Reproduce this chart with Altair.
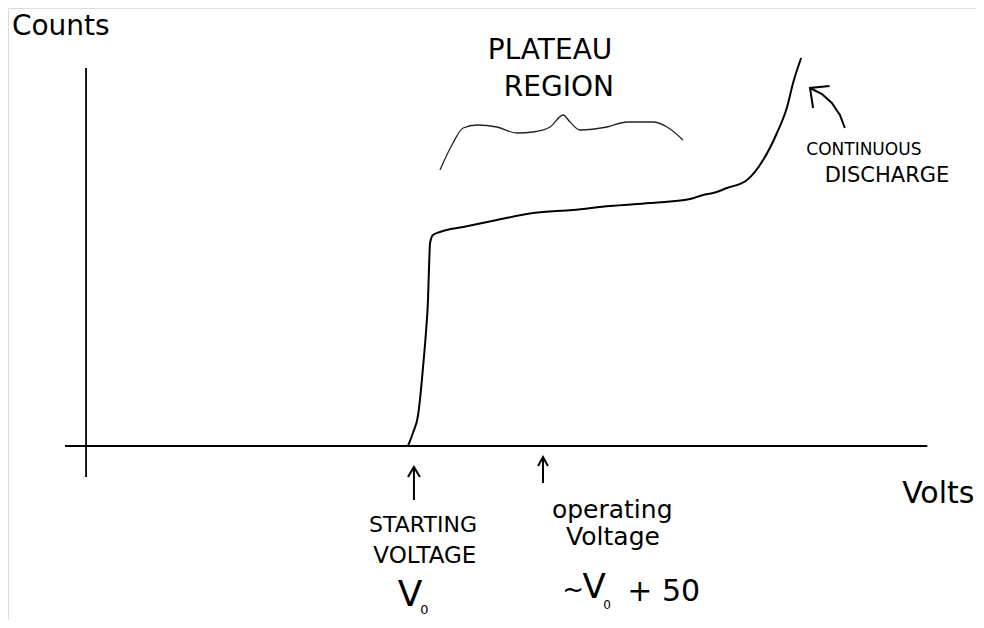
import altair as alt
import pandas as pd

# ---- data (volts, counts in arbitrary units) ----
curve_volts = [123.7, 125.6, 127.6, 128.3, 129.5, 130.6, 131.4, 131.8, 132.2, 133.3,
               136.0, 144.9, 157.9, 171.8, 187.1, 201.3, 216.7, 232.1, 237.1, 241.0,
               246.3, 254.0, 260.2, 265.5, 269.4, 271.7, 274.8]
curve_counts = [0, 6.5, 15.5, 23, 39.5, 56.5, 73, 89.5, 101.5, 105.5,
                107, 109.5, 113, 116.5, 118, 120, 121.5, 123.5, 125.5, 126.5,
                129, 133, 143, 156.5, 169.5, 181.5, 194]

# curly brace over the plateau
brace_volts = [136.0, 141.0, 144.9, 150.2, 157.9, 165.6, 171.8, 178.3, 183.3, 186.0,
               189.8, 200.2, 207.9, 217.9, 223.3, 229.4]
brace_counts = [138, 151.5, 159, 160.5, 159.5, 156.5, 157, 159.5, 165.5, 162,
                158, 159.5, 162, 162, 159.5, 153]

# axes lines (hand-drawn, they overshoot the origin)
axis_seg = ["xaxis", "xaxis", "yaxis", "yaxis"]
axis_volts = [-8.1, 323.3, 0, 0]
axis_counts = [0, 0, 189, -15.5]

# arrows: (segment id, volts, counts)
arrow_seg = ["cd_shaft"] * 5 + ["cd_head"] * 3 + \
            ["sv_shaft"] * 2 + ["sv_head"] * 3 + \
            ["ov_shaft"] * 2 + ["ov_head"] * 3
arrow_volts = [291.6, 289.7, 286.6, 282.8, 278.2, 285.7, 278.2, 279.4,
               126.0, 126.0, 123.7, 126.0, 128.3,
               175.6, 175.6, 173.7, 175.6, 177.5]
arrow_counts = [159, 165.5, 171.5, 176, 179, 180, 179, 169,
                -27, -10.5, -15.5, -10.5, -15.5,
                -18.5, -5.5, -10, -5.5, -10]

# text annotations
label_text = ["Counts", "PLATEAU", "REGION", "CONTINUOUS", "DISCHARGE",
              "STARTING", "VOLTAGE", "V", "0",
              "operating", "Voltage", "~", "V", "0", "+ 50", "Volts"]
label_volts = [-28.5, 178.3, 181.7, 298.9, 307.8,
               129.5, 130.2, 124.5, 130.0,
               202.2, 202.5, 187.2, 195.2, 200.2, 222.0, 327.5]
label_counts = [209.5, 197.5, 179, 148, 135,
                -39.5, -55, -74.5, -82,
                -32, -45.5, -72, -71, -79.5, -73, -24]
label_size = [28, 28, 28, 17, 21,
              22, 23, 36, 13,
              25, 25, 26, 34, 12, 30, 30]
label_align = ["left"] + ["center"] * 15

# ---- build tables ----
curve_df = pd.DataFrame({"v": curve_volts, "c": curve_counts, "i": range(len(curve_volts))})
brace_df = pd.DataFrame({"v": brace_volts, "c": brace_counts, "i": range(len(brace_volts))})
axis_df = pd.DataFrame({"seg": axis_seg, "v": axis_volts, "c": axis_counts, "i": range(len(axis_seg))})
arrow_df = pd.DataFrame({"seg": arrow_seg, "v": arrow_volts, "c": arrow_counts, "i": range(len(arrow_seg))})
label_df = pd.DataFrame({"t": label_text, "v": label_volts, "c": label_counts,
                         "s": label_size, "a": label_align})

xs = alt.Scale(domain=[-30, 342], nice=False, zero=False)
ys = alt.Scale(domain=[-87, 219], nice=False, zero=False)
X = alt.X("v:Q", scale=xs, axis=None)
Y = alt.Y("c:Q", scale=ys, axis=None)

axes = alt.Chart(axis_df).mark_line(color="black", strokeWidth=1.8).encode(
    x=X, y=Y, detail="seg:N", order="i:Q")

curve = alt.Chart(curve_df).mark_line(color="black", strokeWidth=2, interpolate="monotone").encode(
    x=X, y=Y, order="i:Q")

brace = alt.Chart(brace_df).mark_line(color="#222222", strokeWidth=1.3, interpolate="monotone").encode(
    x=X, y=Y, order="i:Q")

arrows = alt.Chart(arrow_df).mark_line(color="black", strokeWidth=2, interpolate="linear").encode(
    x=X, y=Y, detail="seg:N", order="i:Q")

text_center = alt.Chart(label_df[label_df["a"] == "center"]).mark_text(
    font="DejaVu Sans", color="black", align="center", baseline="middle").encode(
    x=X, y=Y, text="t:N", size=alt.Size("s:Q", scale=None, legend=None))

text_left = alt.Chart(label_df[label_df["a"] == "left"]).mark_text(
    font="DejaVu Sans", color="black", align="left", baseline="middle").encode(
    x=X, y=Y, text="t:N", size=alt.Size("s:Q", scale=None, legend=None))

chart = alt.layer(axes, curve, brace, arrows, text_center, text_left).properties(
    width=968, height=612, padding=0,
    autosize=alt.AutoSizeParams(type="none"),
).configure_view(stroke=None).configure(background="white")

chart.save("out.html", embed_options={"renderer": "svg", "actions": False})
